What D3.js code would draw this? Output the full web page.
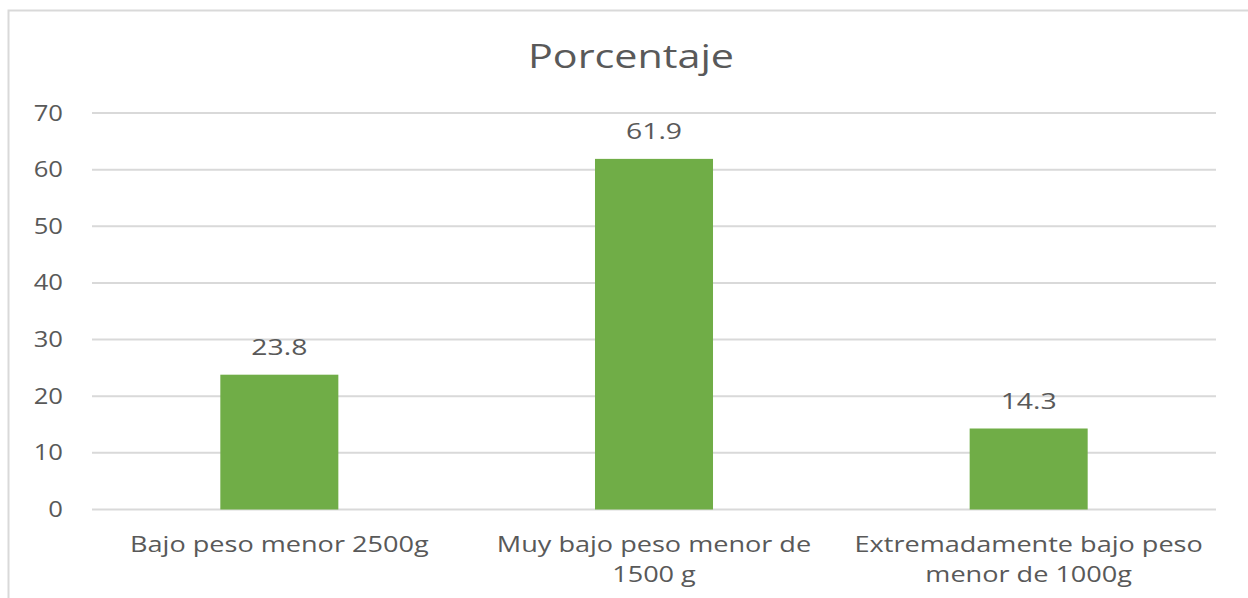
<!DOCTYPE html>
<html>
<head>
<meta charset="utf-8">
<script src="https://cdn.jsdelivr.net/npm/d3@7"></script>
<style>
  body { margin: 0; background: #fff; }
  text { font-family: "Open Sans", "Noto Sans", sans-serif; fill: #595959; }
</style>
</head>
<body>
<div id="chart"></div>
<script>
// Data
const categories = [
    ["Bajo peso menor 2500g"],
    ["Muy bajo peso menor de", "1500 g"],
    ["Extremadamente bajo peso", "menor de 1000g"]
];
const values = [23.8, 61.9, 14.3];
const yTicks = [0, 10, 20, 30, 40, 50, 60, 70];

const width = 1248;
const height = 598;
const margin = { top: 113, right: 32, bottom: 88, left: 92 };
const stretch = 1.29; // text in the original is drawn wider than normal

const svg = d3.select("#chart")
    .append("svg")
    .attr("width", width)
    .attr("height", height);

// Chart border
svg.append("rect")
    .attr("x", 8.5)
    .attr("y", 10.5)
    .attr("width", width + 10)
    .attr("height", height)
    .attr("fill", "none")
    .attr("stroke", "#d9d9d9")
    .attr("stroke-width", 2);

const xScale = d3.scaleBand()
    .domain(d3.range(values.length))
    .range([margin.left, width - margin.right])
    .paddingInner(0.685)
    .paddingOuter(0.3425);

const yScale = d3.scaleLinear()
    .domain([0, 70])
    .range([height - margin.bottom - 0.5, margin.top]);

// Gridlines
svg.append("g")
    .selectAll("line")
    .data(yTicks)
    .join("line")
    .attr("x1", margin.left)
    .attr("x2", width - margin.right)
    .attr("y1", d => yScale(d))
    .attr("y2", d => yScale(d))
    .attr("stroke", "#d9d9d9")
    .attr("stroke-width", 2);

// Y tick labels
svg.append("g")
    .selectAll("text")
    .data(yTicks)
    .join("text")
    .attr("transform", d => `translate(63,${yScale(d) + 7.5}) scale(1.22,1)`)
    .attr("text-anchor", "end")
    .style("font-size", "21px")
    .text(d => d);

// Bars
svg.append("g")
    .selectAll("rect")
    .data(values)
    .join("rect")
    .attr("x", (d, i) => xScale(i))
    .attr("y", d => yScale(d))
    .attr("width", xScale.bandwidth())
    .attr("height", d => yScale(0) - yScale(d))
    .attr("fill", "#70ad47");

// Value labels
svg.append("g")
    .selectAll("text")
    .data(values)
    .join("text")
    .attr("transform", (d, i) =>
        `translate(${xScale(i) + xScale.bandwidth() / 2},${yScale(d) - 20}) scale(1.35,1)`)
    .attr("text-anchor", "middle")
    .style("font-size", "21px")
    .text(d => d.toFixed(1));

// Category labels
const catG = svg.append("g")
    .selectAll("text")
    .data(categories)
    .join("text")
    .attr("transform", (d, i) =>
        `translate(${xScale(i) + xScale.bandwidth() / 2},552) scale(${stretch},1)`)
    .attr("text-anchor", "middle")
    .style("font-size", "21px");

catG.selectAll("tspan")
    .data(d => d)
    .join("tspan")
    .attr("x", 0)
    .attr("dy", (d, i) => i === 0 ? 0 : 30)
    .text(d => d);

// Title
svg.append("text")
    .attr("transform", `translate(631,68) scale(${stretch},1)`)
    .attr("text-anchor", "middle")
    .style("font-size", "32px")
    .text("Porcentaje");
</script>
</body>
</html>
